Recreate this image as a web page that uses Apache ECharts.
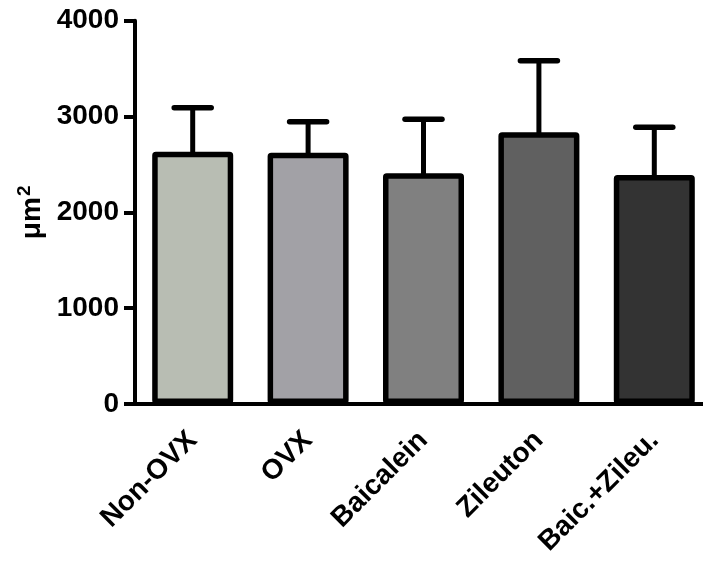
<!DOCTYPE html>
<html><head><meta charset="utf-8">
<script src="https://cdn.jsdelivr.net/npm/echarts@6/dist/echarts.min.js"></script>
<style>html,body{margin:0;padding:0;background:#fff}#c{width:703px;height:561px}</style>
</head><body><div id="c"></div>
<script>
const categories = ['Non-OVX', 'OVX', 'Baicalein', 'Zileuton', 'Baic.+Zileu.'];
const means = [2633, 2623, 2408, 2836, 2390];
const errHigh = [3092, 2946, 2971, 3582, 2887];
const barColors = ['#b8bdb3', '#a2a1a6', '#808080', '#606060', '#333333'];
const yTicks = [0, 1000, 2000, 3000, 4000];
const yName = 'μm';

const FONT = 'Liberation Sans, Arial, sans-serif';
const chart = echarts.init(document.getElementById('c'), null, {renderer: 'canvas'});
chart.setOption({
  animation: false,
  backgroundColor: '#fff',
  grid: {left: 135, top: 20.7, bottom: 157, right: -9, containLabel: false, outerBoundsMode: 'none'},
  xAxis: {
    type: 'category', data: categories, z: 10,
    axisLine: {lineStyle: {color: '#000', width: 4}},
    axisTick: {alignWithLabel: true, length: 12, lineStyle: {color: '#000', width: 4}},
    axisLabel: {rotate: 45, margin: 32, color: '#000', fontFamily: FONT, fontWeight: 'bold', fontSize: 28, interval: 0}
  },
  yAxis: {
    type: 'value', min: yTicks[0], max: yTicks[yTicks.length - 1], interval: 1000, z: 10,
    name: '{a|' + yName + '}{b|2}', nameLocation: 'middle', nameGap: 86,
    nameTextStyle: {rich: {
      a: {fontFamily: FONT, fontWeight: 'bold', fontSize: 28, color: '#000'},
      b: {fontFamily: FONT, fontWeight: 'bold', fontSize: 19, color: '#000', padding: [0, 0, 15, 1]}
    }},
    axisLine: {show: true, lineStyle: {color: '#000', width: 4}},
    axisTick: {show: true, length: 11, lineStyle: {color: '#000', width: 4}},
    splitLine: {show: false},
    axisLabel: {margin: 16, color: '#000', fontFamily: FONT, fontWeight: 'bold', fontSize: 28,
      formatter: function (v) { return String(v); }}
  },
  series: [
    {
      type: 'custom', z: 1,
      renderItem: function (params, api) {
        const x = api.coord([api.value(0), 0])[0];
        const yb = api.coord([api.value(0), api.value(1)])[1];
        const yt = api.coord([api.value(0), api.value(2)])[1];
        const half = 18.5;
        return {type: 'group', children: [
          {type: 'line', shape: {x1: x, y1: yb + 4, x2: x, y2: yt}, style: {stroke: '#000', lineWidth: 5}},
          {type: 'line', shape: {x1: x - half, y1: yt, x2: x + half, y2: yt}, style: {stroke: '#000', lineWidth: 5.5, lineCap: 'round'}}
        ]};
      },
      data: categories.map((c, i) => [i, means[i], errHigh[i]])
    },
    {
      type: 'bar', z: 2, barWidth: 81,
      data: means.map((v, i) => ({value: v, itemStyle: {color: barColors[i]}})),
      itemStyle: {borderColor: '#000', borderWidth: 5.5, borderRadius: 1}
    }
  ]
});
</script></body></html>
